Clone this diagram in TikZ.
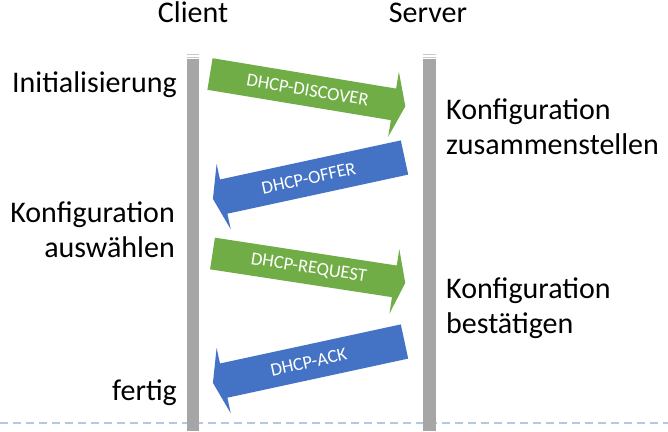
\documentclass[tikz,border=0pt]{standalone}
\usepackage{fontspec}
\setmainfont{Carlito}
\definecolor{msggreen}{HTML}{70AD47}
\definecolor{msgblue}{HTML}{4472C4}
\definecolor{lifeline}{HTML}{A6A6A6}
\definecolor{lifetop}{HTML}{C9C9C9}
\definecolor{sepline}{HTML}{B4C7E7}
\begin{document}
\begin{tikzpicture}[x=1pt,y=-1pt,
  sidetext/.style={font=\fontsize{30}{35}\selectfont, inner sep=0pt},
  lefttext/.style={sidetext, anchor=base east, align=right},
  righttext/.style={sidetext, anchor=base west, align=left},
  msgtext/.style={font=\fontsize{18.5}{20}\selectfont, text=white, inner sep=0pt, transform shape},
  barstyle/.style={fill=lifeline},
  bartop/.style={draw=lifetop, line width=1pt}
]
\fill[white] (0,0) rectangle (668,431);
\useasboundingbox (0,0) rectangle (668,431);

% separator
\draw[sepline, line width=1.5pt, dash pattern=on 8pt off 5pt] (0,423) -- (668,423);

% lifelines
\fill[barstyle] (187,59) rectangle (199,431);
\draw[bartop] (187,54.5) -- (199,54.5) (187,57) -- (199,57);
\fill[barstyle] (423,59) rectangle (436,431);
\draw[bartop] (423,54.5) -- (436,54.5) (423,57) -- (436,57);

% headers
\node[sidetext, anchor=base] (client) at (193,22) {Client};
\node[sidetext, anchor=base] (server) at (428,22) {Server};

% side labels (base anchor = baseline of the last line)
\node[lefttext] (init) at (177,92) {Initialisierung};
\node[lefttext] (select) at (175,257) {Konfiguration\\auswählen};
\node[lefttext] (done) at (177,400) {fertig};
\node[righttext] (compose) at (446,154) {Konfiguration\\zusammenstellen};
\node[righttext] (confirm) at (446,333) {Konfiguration\\bestätigen};

% DHCP-DISCOVER
\begin{scope}[shift={(210,74)}, rotate=-9.4]
  \fill[msggreen] (0,-16) -- (186,-16) -- (186,-33) -- (198,0) -- (186,33) -- (186,16) -- (0,16) -- cycle;
  \node[msgtext] (discover) at (99,0) {DHCP-DISCOVER};
\end{scope}

% DHCP-OFFER
\begin{scope}[shift={(404.5,157.5)}, rotate=12.2]
  \fill[msgblue] (0,-17.5) -- (-185,-17.5) -- (-185,-33.5) -- (-196,0) -- (-185,33.5) -- (-185,17.5) -- (0,17.5) -- cycle;
  \node[msgtext] (offer) at (-98,0) {DHCP-OFFER};
\end{scope}

% DHCP-REQUEST
\begin{scope}[shift={(212.5,253.5)}, rotate=-8.7]
  \fill[msggreen] (0,-16) -- (184,-16) -- (184,-32.6) -- (195,0) -- (184,32.6) -- (184,16) -- (0,16) -- cycle;
  \node[msgtext] (request) at (97.5,0) {DHCP-REQUEST};
\end{scope}

% DHCP-ACK
\begin{scope}[shift={(404.5,341.5)}, rotate=12.2]
  \fill[msgblue] (0,-17.5) -- (-185,-17.5) -- (-185,-33.5) -- (-196,0) -- (-185,33.5) -- (-185,17.5) -- (0,17.5) -- cycle;
  \node[msgtext] (ack) at (-98,0) {DHCP-ACK};
\end{scope}
\end{tikzpicture}
\end{document}
